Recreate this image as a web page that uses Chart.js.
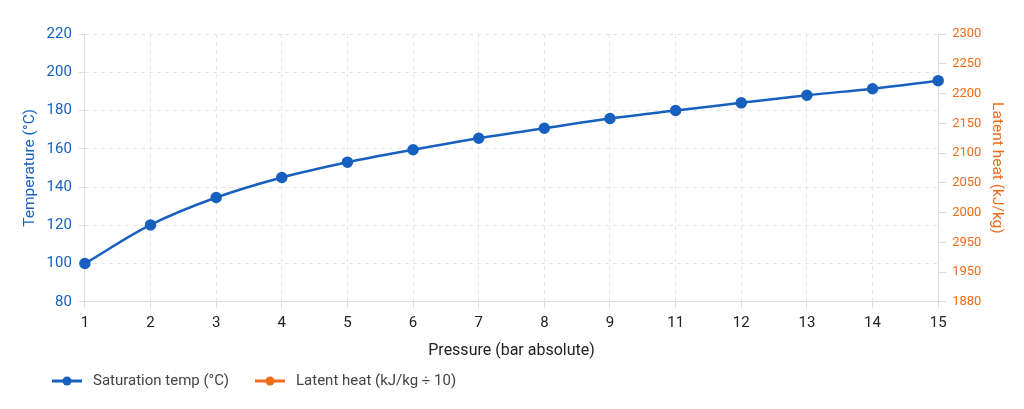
<!DOCTYPE html>
<html>
<head>
<meta charset="utf-8">
<script src="https://cdn.jsdelivr.net/npm/chart.js@4/dist/chart.umd.min.js"></script>
<style>
  html, body { margin: 0; padding: 0; background: #fff; }
  #wrap { width: 1024px; height: 409px; }
</style>
</head>
<body>
<div id="wrap"><canvas id="chart"></canvas></div>
<script>
// pressure categories (10 is missing in the original)
var pressures = ['1', '2', '3', '4', '5', '6', '7', '8', '9', '11', '12', '13', '14', '15'];
var satTemp = [100, 120.2, 134.5, 145, 153, 159.5, 165.5, 170.7, 175.8, 180, 184, 188, 191.4, 195.6];
// latent heat / 10 - falls outside the right axis range, so nothing shows
var latentHeat = [225.7, 220.2, 216.4, 213.4, 210.8, 208.6, 206.6, 204.8, 203.1, 200.0, 198.6, 197.2, 195.9, 194.7];
// right axis labels as printed (bottom to top)
var rightLabels = ['1880', '1950', '2950', '2000', '2050', '2100', '2150', '2200', '2250', '2300'];

var blue = '#1760bf';
var orange = '#ef6c1a';
var fontFamily = 'Roboto, "Noto Sans", sans-serif';

Chart.defaults.font.family = fontFamily;
Chart.defaults.font.size = 14;

// bottom legend: line + dot swatch, then label
var bottomLegend = {
    id: 'bottomLegend',
    afterDraw: function (chart) {
        var ctx = chart.ctx;
        var x = 52, y = 381;
        ctx.save();
        ctx.font = '15px ' + fontFamily;
        ctx.textBaseline = 'middle';
        chart.data.datasets.forEach(function (ds) {
            ctx.strokeStyle = ds.borderColor;
            ctx.lineWidth = 3;
            ctx.beginPath(); ctx.moveTo(x, y); ctx.lineTo(x + 30, y); ctx.stroke();
            ctx.fillStyle = ds.borderColor;
            ctx.beginPath(); ctx.arc(x + 15, y, 4.5, 0, Math.PI * 2); ctx.fill();
            ctx.fillStyle = '#444';
            ctx.fillText(ds.label, x + 41, y);
            x += 41 + ctx.measureText(ds.label).width + 26;
        });
        ctx.restore();
    }
};

new Chart(document.getElementById('chart'), {
    type: 'line',
    data: {
        labels: pressures,
        datasets: [{
            label: 'Saturation temp (°C)',
            data: satTemp,
            yAxisID: 'y',
            borderColor: blue,
            backgroundColor: blue,
            borderWidth: 2.5,
            pointRadius: 4.5,
            tension: 0.35
        }, {
            label: 'Latent heat (kJ/kg ÷ 10)',
            data: latentHeat,
            yAxisID: 'y1',
            borderColor: orange,
            backgroundColor: orange,
            borderWidth: 2.5,
            pointRadius: 4.5,
            tension: 0.35
        }]
    },
    plugins: [bottomLegend],
    options: {
        responsive: true,
        maintainAspectRatio: false,
        animation: false,
        layout: { padding: { left: 21, right: 18, top: 34, bottom: 48 } },
        plugins: {
            tooltip: { enabled: false },
            legend: { display: false }
        },
        scales: {
            x: {
                offset: false,
                grid: { color: '#e6e6e6', tickLength: 6, tickColor: '#ddd' },
                border: { color: '#ddd', dash: [4, 4] },
                ticks: { color: '#222', padding: 6, font: { size: 15 } },
                title: { display: true, text: 'Pressure (bar absolute)', color: '#222', font: { size: 16 }, padding: { top: 4, bottom: 0 } }
            },
            y: {
                position: 'left',
                min: 80,
                max: 220,
                ticks: { stepSize: 20, color: blue, padding: 7, font: { size: 15 } },
                grid: { color: '#e6e6e6', tickColor: '#ddd', tickLength: 6 },
                border: { color: '#ddd', dash: [4, 4] },
                title: { display: true, text: 'Temperature (°C)', color: blue, font: { size: 15.5 }, padding: { top: 0, bottom: 0 } }
            },
            y1: {
                position: 'right',
                min: 0,
                max: 9,
                ticks: {
                    stepSize: 1,
                    color: orange,
                    padding: 6,
                    font: { size: 13 },
                    callback: function (v) { return rightLabels[v]; }
                },
                grid: { drawOnChartArea: false, tickColor: '#ddd', tickLength: 8 },
                border: { color: '#ddd' },
                title: { display: true, text: 'Latent heat (kJ/kg)', color: orange, font: { size: 15.5 }, padding: { top: 0, bottom: 0 } }
            }
        }
    }
});
</script>
</body>
</html>
